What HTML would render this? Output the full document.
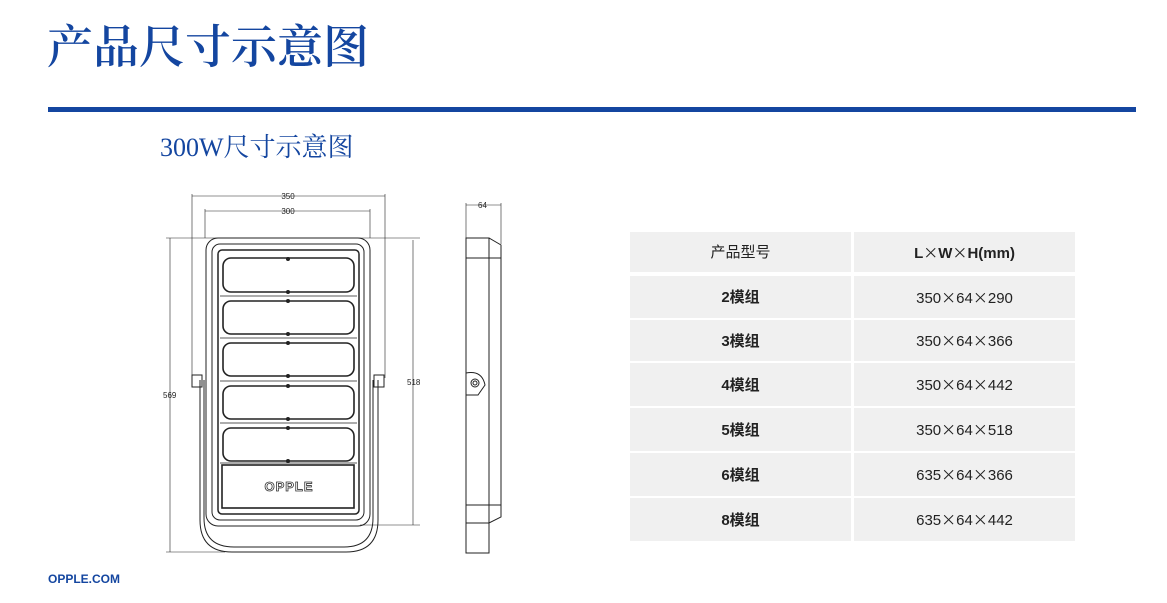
<!DOCTYPE html>
<html><head><meta charset="utf-8"><style>
body{margin:0;width:1167px;height:603px;background:#fff;position:relative;overflow:hidden}
.t{position:absolute;left:47px;top:18px;font:600 46px "Liberation Serif","Noto Serif CJK SC",serif;color:#1446a0;line-height:60px;white-space:nowrap}
.bar{position:absolute;left:48px;top:107px;width:1088px;height:5px;background:#1446a0}
.st{position:absolute;left:160px;top:130px;font:26px "Liberation Serif","Noto Serif CJK SC",serif;color:#1446a0;line-height:36px;white-space:nowrap}
.ft{position:absolute;left:48px;top:572px;font:bold 12px "Liberation Sans",sans-serif;color:#1446a0}
.c{position:absolute;background:#f0f0f0;font:15px/20px "Liberation Sans","Noto Sans CJK SC",sans-serif;color:#222;display:flex;align-items:center;justify-content:center;padding-top:2px;box-sizing:border-box}
.c span,.c i{line-height:20px}
.b{font-weight:bold}
.x{font-family:"Noto Sans CJK SC",sans-serif;font-weight:normal;font-style:normal}
</style></head><body>
<div class="t">产品尺寸示意图</div>
<div class="bar"></div>
<div class="st">300W尺寸示意图</div>
<div class="ft">OPPLE.COM</div>

<div class="c" style="left:630px;top:232px;width:221px;height:40px"><span>产品型号</span></div>
<div class="c b" style="left:854px;top:232px;width:221px;height:40px"><span>L<i class="x">×</i>W<i class="x">×</i>H(mm)</span></div>
<div class="c b" style="left:630px;top:276px;width:221px;height:42px"><span>2模组</span></div><div class="c" style="left:854px;top:276px;width:221px;height:42px"><span>350<i class="x">×</i>64<i class="x">×</i>290</span></div>
<div class="c b" style="left:630px;top:320px;width:221px;height:41px"><span>3模组</span></div><div class="c" style="left:854px;top:320px;width:221px;height:41px"><span>350<i class="x">×</i>64<i class="x">×</i>366</span></div>
<div class="c b" style="left:630px;top:363px;width:221px;height:43px"><span>4模组</span></div><div class="c" style="left:854px;top:363px;width:221px;height:43px"><span>350<i class="x">×</i>64<i class="x">×</i>442</span></div>
<div class="c b" style="left:630px;top:408px;width:221px;height:43px"><span>5模组</span></div><div class="c" style="left:854px;top:408px;width:221px;height:43px"><span>350<i class="x">×</i>64<i class="x">×</i>518</span></div>
<div class="c b" style="left:630px;top:453px;width:221px;height:43px"><span>6模组</span></div><div class="c" style="left:854px;top:453px;width:221px;height:43px"><span>635<i class="x">×</i>64<i class="x">×</i>366</span></div>
<div class="c b" style="left:630px;top:498px;width:221px;height:43px"><span>8模组</span></div><div class="c" style="left:854px;top:498px;width:221px;height:43px"><span>635<i class="x">×</i>64<i class="x">×</i>442</span></div>

<svg style="position:absolute;left:0;top:0" width="1167" height="603" fill="none" stroke="#222" stroke-width="1" font-family="Liberation Sans" font-size="8">
<line x1="192" y1="194" x2="192" y2="378" stroke-width=".6"/><line x1="385" y1="194" x2="385" y2="378" stroke-width=".6"/>
<line x1="192" y1="196" x2="385" y2="196" stroke-width=".6"/>
<line x1="205" y1="209" x2="205" y2="238" stroke-width=".6"/><line x1="370" y1="209" x2="370" y2="238" stroke-width=".6"/>
<line x1="205" y1="211" x2="370" y2="211" stroke-width=".6"/>
<text x="288" y="199" text-anchor="middle" fill="#222" stroke="none">350</text>
<text x="288" y="214" text-anchor="middle" fill="#222" stroke="none">300</text>
<line x1="166" y1="238" x2="420" y2="238" stroke-width=".6"/>
<line x1="166" y1="552" x2="225" y2="552" stroke-width=".6"/>
<line x1="360" y1="525" x2="420" y2="525" stroke-width=".6"/>
<line x1="170" y1="238" x2="170" y2="552" stroke-width=".6"/>
<line x1="413" y1="240" x2="413" y2="525" stroke-width=".6"/>
<text x="163" y="398" fill="#222" stroke="none">569</text>
<text x="407" y="385" fill="#222" stroke="none">518</text>
<path d="M200 380 V520 Q200 552 232 552 H346 Q378 552 378 520 V380"/>
<path d="M204 380 V518 Q204 547 234 547 H344 Q373 547 373 518 V380"/>
<rect x="192" y="375" width="10" height="12"/><rect x="374" y="375" width="10" height="12"/>
<rect x="206" y="238" width="164" height="288" rx="12"/>
<rect x="212" y="244" width="152" height="276" rx="8"/>
<rect x="218" y="250" width="141" height="264" rx="4" stroke-width="1.5"/>
<g stroke-width="1.6">
<rect x="223" y="258" width="131" height="34" rx="8"/>
<rect x="223" y="301" width="131" height="33" rx="8"/>
<rect x="223" y="343" width="131" height="33" rx="8"/>
<rect x="223" y="386" width="131" height="33" rx="8"/>
<rect x="223" y="428" width="131" height="33" rx="8"/>
<rect x="222" y="465" width="132" height="43"/>
</g>
<g stroke-width=".8">
<line x1="220" y1="296" x2="357" y2="296"/><line x1="220" y1="338" x2="357" y2="338"/>
<line x1="220" y1="381" x2="357" y2="381"/><line x1="220" y1="423" x2="357" y2="423"/>
<line x1="220" y1="463" x2="357" y2="463"/>
</g>
<g fill="#222" stroke="none">
<circle cx="288" cy="259" r="2"/><circle cx="288" cy="292" r="2"/><circle cx="288" cy="301" r="2"/><circle cx="288" cy="334" r="2"/>
<circle cx="288" cy="343" r="2"/><circle cx="288" cy="376" r="2"/><circle cx="288" cy="386" r="2"/><circle cx="288" cy="419" r="2"/>
<circle cx="288" cy="428" r="2"/><circle cx="288" cy="461" r="2"/>
</g>
<text x="289" y="491" text-anchor="middle" font-size="13" font-weight="bold" fill="#fff" stroke="#333" stroke-width=".8" letter-spacing="1">OPPLE</text>
<line x1="466" y1="203" x2="466" y2="238" stroke-width=".6"/><line x1="501" y1="203" x2="501" y2="244" stroke-width=".6"/>
<line x1="466" y1="205" x2="501" y2="205" stroke-width=".6"/>
<text x="478" y="208" fill="#222" stroke="none">64</text>
<path d="M466 238 H489 L501 245 V258 M466 258 H501 M466 505 H501 V517 L489 523 H466"/>
<rect x="466" y="238" width="23" height="315"/>
<line x1="501" y1="258" x2="501" y2="505"/>
<path d="M466 373 Q482 370 485 385 L478 395 H466"/>
<circle cx="475" cy="383" r="4"/><circle cx="475" cy="383" r="2"/>
</svg>
</body></html>
